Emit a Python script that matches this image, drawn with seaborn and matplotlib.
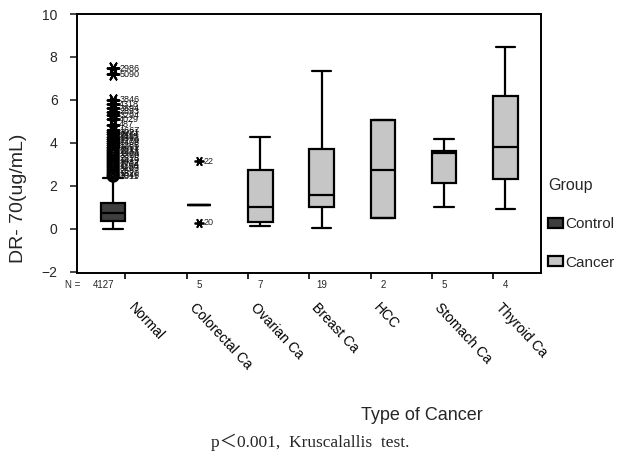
import matplotlib
matplotlib.use('Agg')
import matplotlib.pyplot as plt
import matplotlib.transforms as mtransforms
import numpy as np
import pandas as pd
import seaborn as sns

# categories, group and number of cases
types = ['Normal', 'Colorectal Ca', 'Ovarian Ca', 'Breast Ca', 'HCC', 'Stomach Ca', 'Thyroid Ca']
groups = ['Control', 'Cancer', 'Cancer', 'Cancer', 'Cancer', 'Cancer', 'Cancer']
counts = [4127, 5, 7, 19, 2, 5, 4]

# values giving each box: low end, Q1, median, Q3, high end (ug/mL)
normal_vals = [0.00, 0.39, 0.75, 1.22, 2.39]
colorectal_vals = [0.28, 1.12, 1.12, 1.12, 3.16]
ovarian_vals = [0.14, 0.34, 1.01, 2.74, 4.30]
breast_vals = [0.05, 1.04, 1.57, 3.70, 7.36]
hcc_vals = [0.50, 0.50, 2.74, 5.07, 5.07]
stomach_vals = [1.04, 2.12, 3.55, 3.63, 4.19]
thyroid_vals = [0.94, 2.31, 3.83, 6.20, 8.45]

# normal group: extreme cases (stars) and outliers (circles) with case numbers
normal_extreme = [7.47, 7.20, 6.00, 5.80, 5.62, 5.45, 5.28, 5.10, 4.84, 4.60,
                  4.50, 4.40, 4.30, 4.20, 4.10, 4.00, 3.90, 3.80]
normal_extreme_id = ['2986', '5090', '3846', '4318', '3894', '2893', '3294', '4029', '487', '1667',
                     '3021', '2467', '3115', '1893', '2770', '3408', '1286', '2051']
normal_outlier = [3.70, 3.60, 3.50, 3.40, 3.30, 3.20, 3.10, 3.00, 2.90, 2.80,
                  2.70, 2.60, 2.50, 2.45]
normal_outlier_id = ['3517', '2238', '1904', '3360', '2615', '1479', '3982', '2734', '1156', '3203',
                     '2587', '1820', '3046', '2311']
# colorectal extreme cases
colorectal_ids = {3.16: '22', 0.28: '20'}

box_vals = [normal_vals, colorectal_vals, ovarian_vals, breast_vals, hcc_vals, stomach_vals, thyroid_vals]
rows = []
for t, g, vals in zip(types, groups, box_vals):
    for v in vals:
        rows.append({'type': t, 'group': g, 'value': v})
df = pd.DataFrame(rows)

sns.set_style('ticks')
plt.rcParams['font.family'] = ['Liberation Sans', 'DejaVu Sans']

fig = plt.figure(figsize=(6.26, 4.61), dpi=100)
ax = fig.add_axes([77 / 626, 1 - 273 / 461, 464 / 626, 259 / 461])

star = (6, 2, 90)
sns.boxplot(data=df, x='type', y='value', hue='group', order=types,
            hue_order=['Control', 'Cancer'], dodge=True, width=0.8,
            palette={'Control': '#3e3e3e', 'Cancer': '#c6c6c6'}, saturation=1,
            linecolor='black', linewidth=1.6,
            flierprops=dict(marker=star, markersize=7, markeredgewidth=1.3,
                            markeredgecolor='black', markerfacecolor='black'),
            capwidths=0.32, ax=ax)

# outliers of the normal group (control box sits at x = -0.2)
xc = -0.2
sns.scatterplot(x=[xc] * len(normal_outlier), y=normal_outlier, marker='o', s=60,
                facecolor='none', edgecolor='black', linewidth=1.6, ax=ax, legend=False)
sns.scatterplot(x=[xc] * len(normal_extreme), y=normal_extreme, marker=star, s=70,
                color='black', linewidth=1.5, ax=ax, legend=False)
for v, lab in zip(normal_extreme + normal_outlier, normal_extreme_id + normal_outlier_id):
    ax.text(xc + 0.1, v, lab, fontsize=6.5, va='center', ha='left', color='#111111')
for v, lab in colorectal_ids.items():
    ax.text(1 + 0.2 + 0.08, v, lab, fontsize=6.5, va='center', ha='left', color='#222222')

ax.set_xlim(-0.79, 6.78)
ax.set_ylim(-2.05, 10)
ax.set_yticks([-2, 0, 2, 4, 6, 8, 10])
ax.set_xticks(range(len(types)))
ax.tick_params(axis='x', pad=16, length=4, width=1.2, direction='out', colors='black')
ax.tick_params(axis='y', labelsize=10, length=5, width=1.2, direction='out', pad=9)
ax.set_xticklabels(types, rotation=-47, ha='left', va='top', rotation_mode='anchor', fontsize=10)
shift = mtransforms.ScaledTranslation(10 / 100, 0, fig.dpi_scale_trans)
for lab in ax.get_xticklabels():
    lab.set_transform(lab.get_transform() + shift)
for sp in ax.spines.values():
    sp.set_visible(True)
    sp.set_color('black')
    sp.set_linewidth(1.4)

ax.set_xlabel('')
ax.set_ylabel('DR- 70(ug/mL)', fontsize=14)
ax.yaxis.set_label_coords(-0.108, 0.29)

# number of cases under each box
trans = ax.get_xaxis_transform()
ax.text(-0.86, -0.046, 'N =', transform=trans, fontsize=7, ha='center', va='center', clip_on=False)
for i, (g, n) in enumerate(zip(groups, counts)):
    off = -0.2 if g == 'Control' else 0.2
    if i == 0:
        off = -0.35
    ax.text(i + off, -0.046, str(n), transform=trans, fontsize=7, ha='center', va='center', clip_on=False)

sns.move_legend(ax, 'upper left', bbox_to_anchor=(1.015, 0.368), frameon=False,
                title='Group', title_fontsize=11.5, fontsize=11, labelspacing=1.6,
                handlelength=1.0, handleheight=0.6, handletextpad=0.15, borderpad=0,
                borderaxespad=0)
ax.get_legend()._legend_box.align = 'left'

fig.text(422 / 626, 1 - 416 / 461, 'Type of Cancer', fontsize=13, ha='center', va='center')
fig.text(310 / 626, 1 - 442 / 461, 'p\uff1c0.001,  Kruscalallis  test.', fontsize=12.5,
         ha='center', va='center', family=['Liberation Serif', 'Noto Sans CJK KR'])

fig.savefig('out.png', dpi=100)
